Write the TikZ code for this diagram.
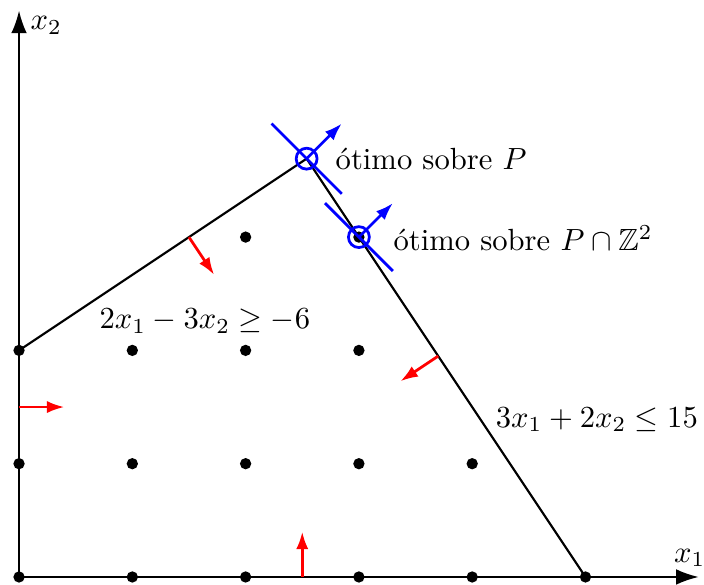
\documentclass[tikz,border=0pt]{standalone}
\usepackage{amssymb}
\usetikzlibrary{arrows.meta}
\begin{document}
\begin{tikzpicture}[x=1.3cm,y=1.3cm,
  axis/.style={line width=0.7pt,-{Latex[length=2.6mm,width=1.8mm]}},
  edge/.style={line width=0.7pt},
  normal/.style={red,line width=0.9pt,-{Latex[length=2mm,width=1.4mm]}},
  obj/.style={blue,line width=0.9pt,-{Latex[length=2mm,width=1.4mm]}},
  level/.style={blue,line width=0.9pt},
  dot/.style={circle,fill=black,inner sep=0pt,minimum size=1.3mm},
  opt/.style={circle,draw=blue,line width=0.9pt,inner sep=0pt,minimum size=2.4mm}]
\useasboundingbox (-0.168,-0.062) rectangle (6.046,5.093);
% axes
\coordinate (O) at (0,0);
\coordinate (X) at (6,0);
\coordinate (Y) at (0,5);
\draw[axis] (O) -- (X);
\draw[axis] (O) -- (Y);
\node at (5.92,0.17) (lx) {$x_1$};
\node at (0.24,4.87) (ly) {$x_2$};
% polygon
\coordinate (A) at (0,2);
\coordinate (V) at (2.5385,3.6923);
\coordinate (B) at (5,0);
\draw[edge] (A) -- (V) -- (B);
% integer points
\foreach \i/\j in {0/0,1/0,2/0,3/0,4/0,5/0,0/1,1/1,2/1,3/1,4/1,0/2,1/2,2/2,3/2,2/3,3/3}
  \node[dot] (p\i\j) at (\i,\j) {};
% normals
\coordinate (n1s) at (2.5,0); \coordinate (n1e) at (2.5,0.4);
\draw[normal] (n1s) -- (n1e);
\coordinate (n2s) at (0,1.5); \coordinate (n2e) at (0.4,1.5);
\draw[normal] (n2s) -- (n2e);
\coordinate (n3s) at (1.5,3); \coordinate (n3e) at (1.722,2.667);
\draw[normal] (n3s) -- (n3e);
\coordinate (n4s) at (3.7,1.95); \coordinate (n4e) at (3.367,1.728);
\draw[normal] (n4s) -- (n4e);
% optimum over P
\node[opt] (o1) at (V) {};
\coordinate (l1a) at (2.2285,4.0023);
\coordinate (l1b) at (2.8485,3.3823);
\coordinate (d1) at (2.8485,4.0023);
\draw[level] (l1a) -- (l1b);
\draw[obj] (o1.center) -- (d1);
% optimum over P cap Z2
\node[opt] (o2) at (3,3) {};
\coordinate (l2a) at (2.7,3.3);
\coordinate (l2b) at (3.3,2.7);
\coordinate (d2) at (3.3,3.3);
\draw[level] (l2a) -- (l2b);
\draw[obj] (o2.center) -- (d2);
% labels
\node[anchor=west] (t1) at (2.70,3.69) {ótimo sobre $P$};
\node[anchor=west] (t2) at (3.21,2.99) {ótimo sobre $P\cap\mathbb{Z}^2$};
\node (c1) at (1.64,2.26) {$2x_1-3x_2\geq -6$};
\node (c2) at (5.1,1.39) {$3x_1+2x_2\leq 15$};
\end{tikzpicture}
\end{document}
